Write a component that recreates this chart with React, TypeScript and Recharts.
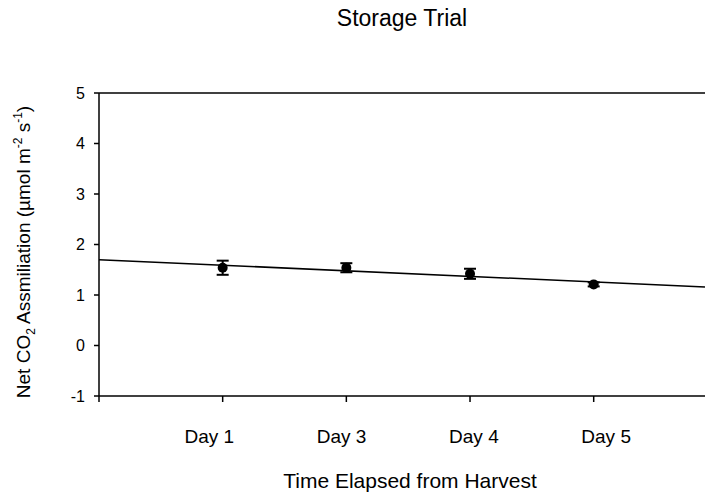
import {
  ComposedChart,
  Line,
  Scatter,
  ErrorBar,
  XAxis,
  YAxis,
  ReferenceLine,
} from "recharts";

const days = ["Day 1", "Day 3", "Day 4", "Day 5"];
const assimilation = [1.54, 1.54, 1.42, 1.21];
const stdErr = [0.14, 0.09, 0.1, 0.04];

// fitted trend line, drawn across the whole plot
const trendX = [0, 4.9];
const trendY = [1.7, 1.16];

const yTicks = [-1, 0, 1, 2, 3, 4, 5];
const xTicks = [0, 1, 2, 3, 4];

const points = days.map((d, i) => ({
  x: i + 1,
  day: d,
  y: assimilation[i],
  err: stdErr[i],
}));
const trend = trendX.map((x, i) => ({ x, y: trendY[i] }));

const font = "'Liberation Sans', Arial, Helvetica, sans-serif";

const Dot = (props: any) => (
  <circle cx={props.cx} cy={props.cy} r={5} fill="#000" />
);

// in the original the day labels sit a little wider apart than the ticks
const DayTick = (props: any) => {
  const { x, y, payload } = props;
  const label = days[payload.value - 1];
  if (!label) return null;
  const spread = (payload.value - 2.55) * 8.6;
  return (
    <text
      x={x + spread}
      y={y}
      dy="0.71em"
      textAnchor="middle"
      fontSize={19}
      fontFamily={font}
      fill="#000"
    >
      {label}
    </text>
  );
};

export default function App() {
  return (
    <div
      style={{
        position: "absolute",
        left: 0,
        top: 0,
        width: 705,
        height: 495,
        background: "#fff",
        overflow: "hidden",
      }}
    >
      <ComposedChart
        width={705}
        height={495}
        margin={{ top: 93, right: 0, bottom: 0, left: 0 }}
      >
        <XAxis
          type="number"
          dataKey="x"
          domain={[0, 4.9]}
          ticks={xTicks}
          height={99}
          tickSize={6}
          tickMargin={28}
          axisLine={{ stroke: "#000", strokeWidth: 1.5 }}
          tickLine={{ stroke: "#000", strokeWidth: 1.5 }}
          tick={DayTick}
          allowDataOverflow
        />
        <YAxis
          type="number"
          domain={[-1, 5]}
          ticks={yTicks}
          width={99}
          tickSize={5}
          tickMargin={9}
          axisLine={{ stroke: "#000", strokeWidth: 1.5 }}
          tickLine={{ stroke: "#000", strokeWidth: 1.5 }}
          tick={{ fontSize: 16, fill: "#000", fontFamily: font }}
        />
        <ReferenceLine y={5} stroke="#000" strokeWidth={1.5} />
        <Line
          data={trend}
          dataKey="y"
          stroke="#000"
          strokeWidth={1.5}
          dot={false}
          activeDot={false}
          isAnimationActive={false}
        />
        <Scatter
          data={points}
          dataKey="y"
          fill="#000"
          shape={Dot}
          isAnimationActive={false}
        >
          <ErrorBar
            dataKey="err"
            direction="y"
            width={6}
            stroke="#000"
            strokeWidth={2}
            isAnimationActive={false}
          />
        </Scatter>
      </ComposedChart>

      <svg
        width={705}
        height={495}
        style={{ position: "absolute", left: 0, top: 0, pointerEvents: "none" }}
        fontFamily={font}
        fill="#000"
      >
        <text x={402} y={26} fontSize={23} textAnchor="middle">
          Storage Trial
        </text>
        <text x={410} y={488} fontSize={21} textAnchor="middle">
          Time Elapsed from Harvest
        </text>
        <text
          transform="translate(30,252) rotate(-90)"
          fontSize={19}
          textAnchor="middle"
        >
          <tspan>Net CO</tspan>
          <tspan fontSize={12} dy={5}>2</tspan>
          <tspan dy={-5}> Assmiliation (µmol m</tspan>
          <tspan fontSize={12} dy={-8}>-2</tspan>
          <tspan dy={8}> s</tspan>
          <tspan fontSize={12} dy={-8}>-1</tspan>
          <tspan dy={8}>)</tspan>
        </text>
      </svg>
    </div>
  );
}
